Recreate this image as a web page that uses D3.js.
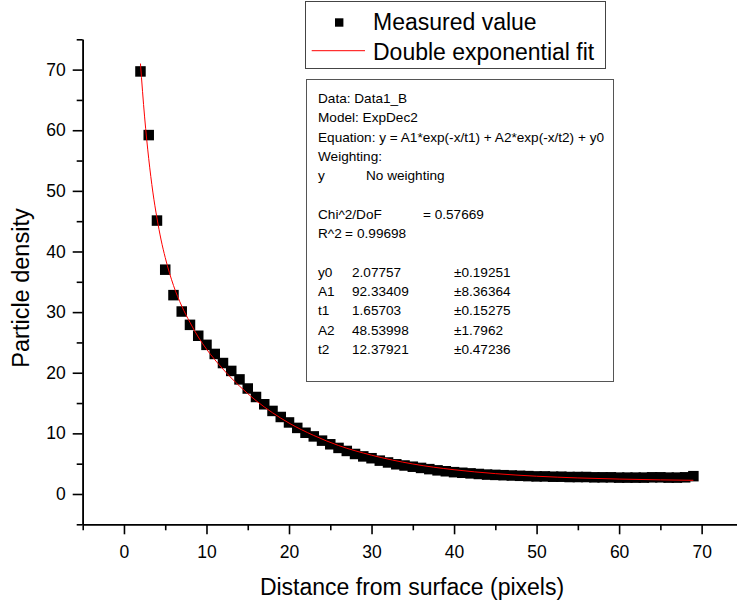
<!DOCTYPE html>
<html>
<head>
<meta charset="utf-8">
<script src="https://cdn.jsdelivr.net/npm/d3@7"></script>
<style>
  body { margin: 0; background: #fff; }
  svg { display: block; font-family: "Liberation Sans", Arial, sans-serif; }
</style>
</head>
<body>
<svg id="chart" width="737" height="603"></svg>
<script>
// ===============================
// Dades
// ===============================
const distance = [2, 3, 4, 5, 6, 7, 8, 9, 10, 11, 12, 13, 14, 15, 16, 17, 18, 19, 20,
  21, 22, 23, 24, 25, 26, 27, 28, 29, 30, 31, 32, 33, 34, 35, 36, 37, 38, 39, 40,
  41, 42, 43, 44, 45, 46, 47, 48, 49, 50, 51, 52, 53, 54, 55, 56, 57, 58, 59, 60,
  61, 62, 63, 64, 65, 66, 67, 68, 69];
const density = [69.7, 59.2, 45.1, 37.0, 32.8, 30.1, 27.9, 26.1, 24.6, 23.1, 21.6, 20.3, 18.9, 17.4, 16.0, 14.8, 13.7, 12.7, 11.8,
  10.9, 10.1, 9.5, 8.8, 8.2, 7.6, 7.1, 6.6, 6.2, 5.9, 5.5, 5.2, 4.9, 4.7, 4.5, 4.3, 4.1, 3.9, 3.75, 3.6,
  3.5, 3.4, 3.3, 3.2, 3.15, 3.1, 3.05, 3.0, 2.95, 2.9, 2.9, 2.85, 2.85, 2.8, 2.8, 2.8, 2.75, 2.75, 2.75, 2.7,
  2.7, 2.7, 2.7, 2.75, 2.75, 2.7, 2.7, 2.75, 2.94];

// corba d'ajust llegida del gràfic
const fitX = [2, 2.5, 3, 3.5, 4, 4.5, 5, 6, 7, 8, 9, 10, 12, 14, 16, 18, 20, 23, 26, 30, 35, 40, 45, 50, 55, 60, 65, 69];
const fitY = [71.0, 62.2, 55.3, 49.8, 45.5, 41.9, 39.0, 34.4, 31.0, 28.3, 25.9, 23.9, 20.6, 17.8, 15.4, 13.4, 11.7, 9.65, 8.0, 6.4, 4.95, 4.0, 3.36, 2.93, 2.65, 2.46, 2.33, 2.26];

const xTicks = [0, 10, 20, 30, 40, 50, 60, 70];
const yTicks = [0, 10, 20, 30, 40, 50, 60, 70];
const minorTicks = [-5, 5, 15, 25, 35, 45, 55, 65, 75];

const legendLabels = ["Measured value", "Double exponential fit"];

const fitInfo = [
  "Data: Data1_B",
  "Model: ExpDec2",
  "Equation: y = A1*exp(-x/t1) + A2*exp(-x/t2) + y0",
  "Weighting:"
];
const weightingRow = ["y", "No weighting"];
const chiRow = ["Chi^2/DoF", "= 0.57669"];
const r2Row = ["R^2", "=", "0.99698"];
const paramNames = ["y0", "A1", "t1", "A2", "t2"];
const paramValues = ["2.07757", "92.33409", "1.65703", "48.53998", "12.37921"];
const paramErrors = ["±0.19251", "±8.36364", "±0.15275", "±1.7962", "±0.47236"];

// ===============================
// Escales
// ===============================
const svg = d3.select("#chart");

const x = d3.scaleLinear().domain([-5, 75]).range([82.7, 742.9]);
const y = d3.scaleLinear().domain([-5, 75]).range([524.3, 39.3]);

// ===============================
// Eixos
// ===============================
const axisStyle = g => {
  g.select(".domain").attr("stroke", "#000").attr("stroke-width", 1.6);
  g.selectAll(".tick line").attr("stroke", "#000").attr("stroke-width", 1.6);
  g.selectAll(".tick text").attr("fill", "#000").style("font-size", "17.5px");
};

svg.append("g")
  .attr("transform", `translate(0, ${y(-5)})`)
  .call(d3.axisBottom(x).tickValues(minorTicks).tickSize(6).tickSizeOuter(0).tickFormat(""))
  .call(axisStyle);

svg.append("g")
  .attr("transform", `translate(0, ${y(-5)})`)
  .call(d3.axisBottom(x).tickValues(xTicks).tickSize(10).tickSizeOuter(0).tickPadding(11))
  .call(axisStyle);

svg.append("g")
  .attr("transform", `translate(${x(-5)}, 0)`)
  .call(d3.axisLeft(y).tickValues(minorTicks).tickSize(6).tickSizeOuter(0).tickFormat(""))
  .call(axisStyle);

svg.append("g")
  .attr("transform", `translate(${x(-5)}, 0)`)
  .call(d3.axisLeft(y).tickValues(yTicks).tickSize(10).tickSizeOuter(0).tickPadding(7))
  .call(axisStyle);

svg.append("text")
  .attr("x", 412)
  .attr("y", 595)
  .attr("text-anchor", "middle")
  .style("font-size", "23px")
  .text("Distance from surface (pixels)");

svg.append("text")
  .attr("transform", `translate(29, 288) rotate(-90)`)
  .attr("text-anchor", "middle")
  .style("font-size", "23.5px")
  .text("Particle density");

// ===============================
// Punts i ajust
// ===============================
const sq = 10.5;
svg.append("g")
  .selectAll("rect")
  .data(distance.map((d, i) => [d, density[i]]))
  .enter()
  .append("rect")
  .attr("x", d => x(d[0]) - sq / 2)
  .attr("y", d => y(d[1]) - sq / 2)
  .attr("width", sq)
  .attr("height", sq)
  .attr("fill", "#000");

const line = d3.line()
  .x(d => x(d[0]))
  .y(d => y(d[1]))
  .curve(d3.curveMonotoneX);

svg.append("path")
  .datum(fitX.map((d, i) => [d, fitY[i]]))
  .attr("d", line)
  .attr("fill", "none")
  .attr("stroke", "#ff0000")
  .attr("stroke-width", 1);

// ===============================
// Llegenda
// ===============================
const legend = svg.append("g");

legend.append("rect")
  .attr("x", 305.5)
  .attr("y", 1.5)
  .attr("width", 300)
  .attr("height", 67)
  .attr("fill", "#fff")
  .attr("stroke", "#444")
  .attr("stroke-width", 1);

legend.append("rect")
  .attr("x", 335)
  .attr("y", 18.3)
  .attr("width", 8.4)
  .attr("height", 8.4)
  .attr("fill", "#000");

legend.append("line")
  .attr("x1", 311.7)
  .attr("x2", 365)
  .attr("y1", 50.7)
  .attr("y2", 50.7)
  .attr("stroke", "#ff0000")
  .attr("stroke-width", 1);

legend.selectAll(".legend-label")
  .data(legendLabels)
  .enter()
  .append("text")
  .attr("class", "legend-label")
  .attr("x", 373)
  .attr("y", (d, i) => 30 + i * 30)
  .style("font-size", "23px")
  .text(d => d);

// ===============================
// Caixa de resultats
// ===============================
const info = svg.append("g").style("font-size", "13.6px");

info.append("rect")
  .attr("x", 306.5)
  .attr("y", 79.5)
  .attr("width", 307)
  .attr("height", 302)
  .attr("fill", "#fff")
  .attr("stroke", "#555")
  .attr("stroke-width", 1);

const lineY = i => 103 + i * 19.3;
const left = 318;

info.selectAll(".info-line")
  .data(fitInfo)
  .enter()
  .append("text")
  .attr("x", left)
  .attr("y", (d, i) => lineY(i))
  .text(d => d);

info.append("text").attr("x", left).attr("y", lineY(4)).text(weightingRow[0]);
info.append("text").attr("x", 366).attr("y", lineY(4)).text(weightingRow[1]);

info.append("text").attr("x", left).attr("y", lineY(6)).text(chiRow[0]);
info.append("text").attr("x", 423).attr("y", lineY(6)).text(chiRow[1]);

info.append("text").attr("x", left).attr("y", lineY(7)).text(r2Row[0]);
info.append("text").attr("x", 345).attr("y", lineY(7)).text(r2Row[1]);
info.append("text").attr("x", 357).attr("y", lineY(7)).text(r2Row[2]);

paramNames.forEach((name, i) => {
  const yy = lineY(9 + i);
  info.append("text").attr("x", left).attr("y", yy).text(name);
  info.append("text").attr("x", 352).attr("y", yy).text(paramValues[i]);
  info.append("text").attr("x", 454).attr("y", yy).text(paramErrors[i]);
});
</script>
</body>
</html>
